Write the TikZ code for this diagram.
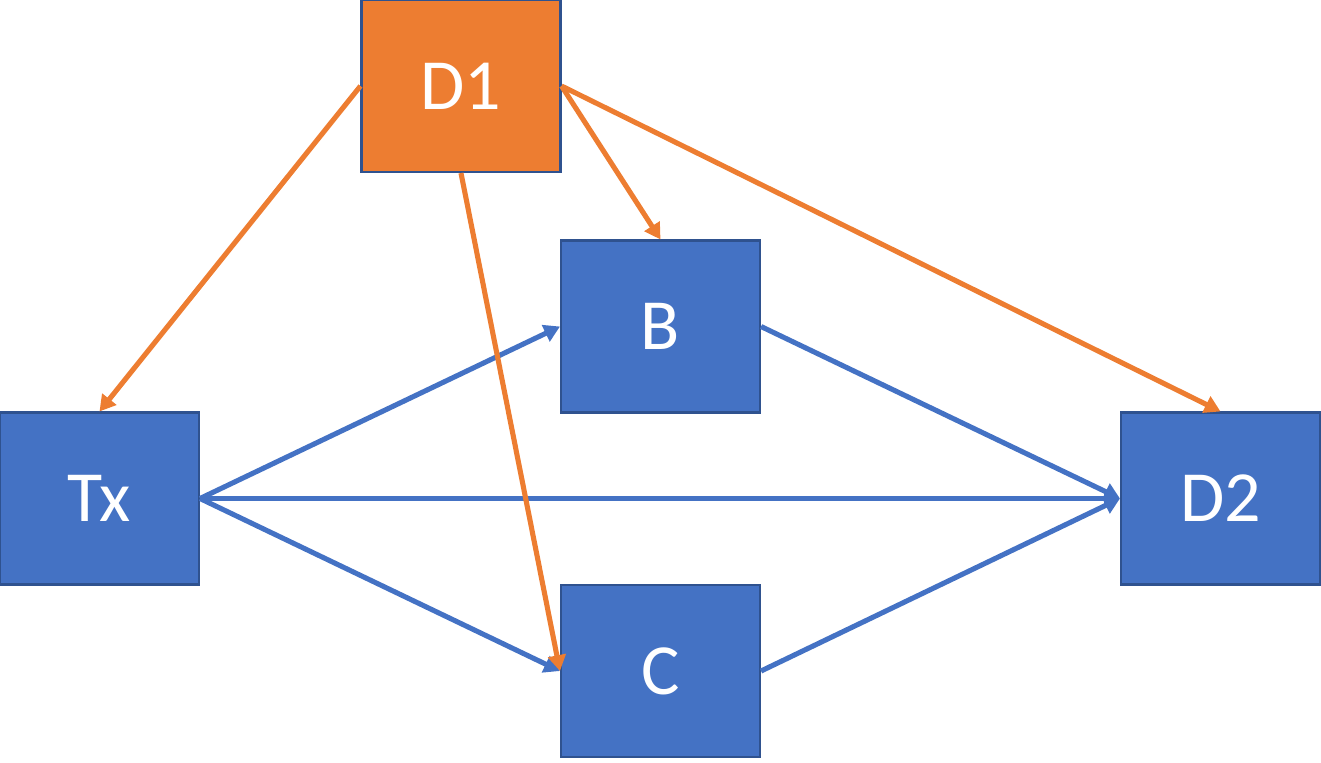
\documentclass[tikz,border=0pt]{standalone}
\usepackage{fontspec}
\setmainfont{Carlito}
\usetikzlibrary{arrows.meta}
\definecolor{boxblue}{HTML}{4472C4}
\definecolor{boxorange}{HTML}{ED7D31}
\definecolor{edgeblue}{HTML}{2F528F}
\begin{document}
\begin{tikzpicture}[x=0.02cm,y=-0.02cm,
  blk/.style={draw=edgeblue,line width=1.2pt,minimum width=3.98cm,minimum height=3.44cm,inner sep=0pt,
    text=white,font=\fontsize{41}{49}\selectfont},
  bluebox/.style={blk,fill=boxblue},
  orangebox/.style={blk,fill=boxorange},
  barrow/.style={draw=boxblue,line width=2.9pt,-{Triangle[length=9pt,width=10pt]}},
  oarrow/.style={draw=boxorange,line width=2.9pt,-{Triangle[length=9pt,width=10pt]}}]
\useasboundingbox (0,0) rectangle (1321,762);
\node[orangebox] (D1) at (461,86) {D1};
\node[bluebox] (B) at (660.5,326.5) {B};
\node[bluebox] (Tx) at (99.5,498.5) {Tx};
\node[bluebox] (C) at (660.5,671) {C};
\node[bluebox] (D2) at (1220.5,498.5) {D2};
\draw[barrow] (Tx.east) -- (B.west);
\draw[barrow] (Tx.east) -- (D2.west);
\draw[barrow] (Tx.east) -- (C.west);
\draw[barrow] (B.east) -- (D2.west);
\draw[barrow] (C.east) -- (D2.west);
\draw[oarrow] (D1.west) -- (Tx.north);
\draw[oarrow] (D1.south) -- (C.west);
\draw[oarrow] (D1.east) -- (B.north);
\draw[oarrow] (D1.east) -- (D2.north);
\end{tikzpicture}
\end{document}
